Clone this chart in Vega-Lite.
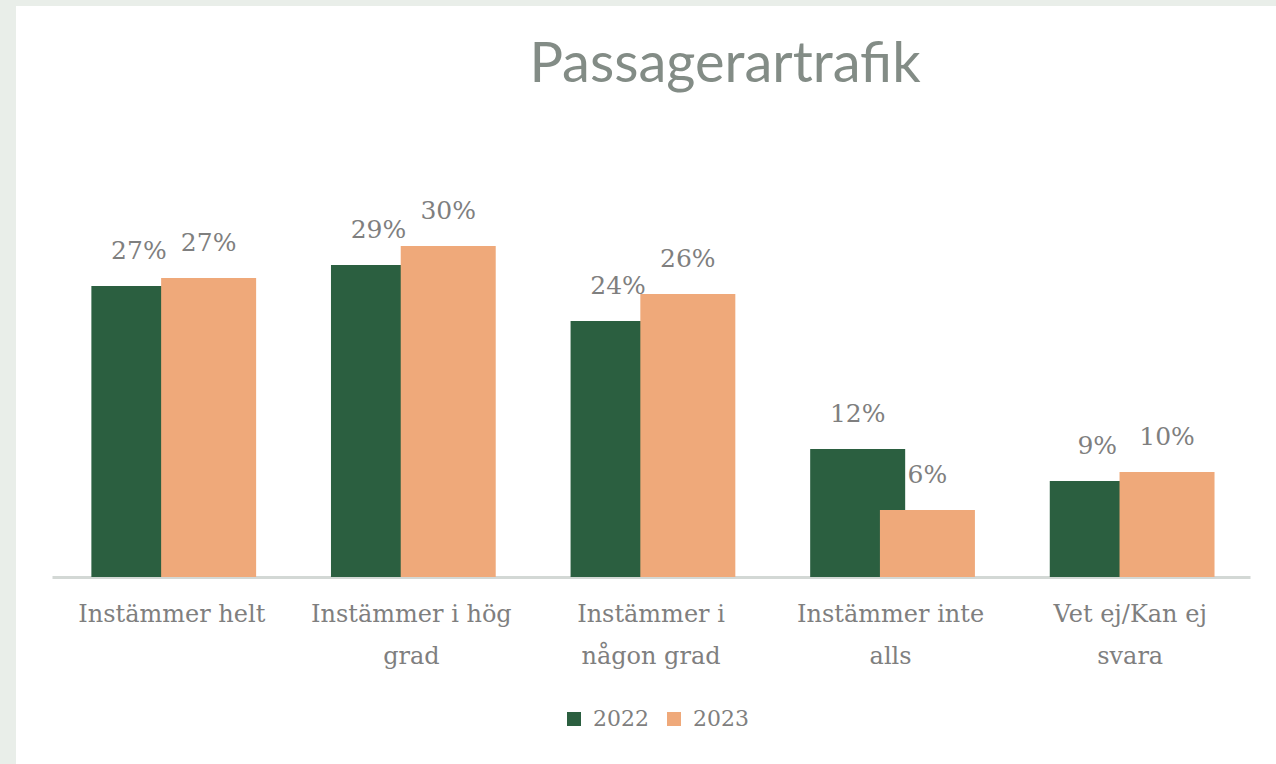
{
  "$schema": "https://vega.github.io/schema/vega-lite/v6.json",
  "autosize": "none",
  "padding": {"left": 16, "top": 6, "right": 0, "bottom": 0},
  "width": 1260,
  "height": 758,
  "background": "#e9eee9",
  "title": {
    "text": "Passagerartrafik",
    "font": "Lato",
    "fontSize": 56,
    "fontWeight": "normal",
    "color": "#838c86",
    "anchor": "middle",
    "dx": 79,
    "dy": 55,
    "baseline": "alphabetic",
    "offset": -77
  },
  "data": {
    "values": [
      {"kategori": "Instämmer helt", "år": "2022", "andel": 0.2675},
      {"kategori": "Instämmer i hög grad", "år": "2022", "andel": 0.2868},
      {"kategori": "Instämmer i någon grad", "år": "2022", "andel": 0.2353},
      {"kategori": "Instämmer inte alls", "år": "2022", "andel": 0.1176},
      {"kategori": "Vet ej/Kan ej svara", "år": "2022", "andel": 0.0882},
      {"kategori": "Instämmer helt", "år": "2023", "andel": 0.2748},
      {"kategori": "Instämmer i hög grad", "år": "2023", "andel": 0.3042},
      {"kategori": "Instämmer i någon grad", "år": "2023", "andel": 0.2601},
      {"kategori": "Instämmer inte alls", "år": "2023", "andel": 0.0616},
      {"kategori": "Vet ej/Kan ej svara", "år": "2023", "andel": 0.0965}
    ]
  },
  "encoding": {
    "x": {
      "field": "kategori",
      "type": "nominal",
      "sort": null,
      "scale": {"range": [36, 1234], "paddingInner": 0, "paddingOuter": 0},
      "axis": {
        "title": null,
        "orient": "bottom",
        "offset": -187,
        "ticks": false,
        "domainColor": "#d3d8d5",
        "domainWidth": 3,
        "labelAngle": 0,
        "labelPadding": 25,
        "labelLimit": 0,
        "labelFont": "DejaVu Serif",
        "labelFontSize": 24,
        "labelColor": "#7f7f7f",
        "labelLineHeight": 42,
        "labelExpr": "datum.label == 'Instämmer i hög grad' ? ['Instämmer i hög', 'grad'] : datum.label == 'Instämmer i någon grad' ? ['Instämmer i', 'någon grad'] : datum.label == 'Instämmer inte alls' ? ['Instämmer inte', 'alls'] : datum.label == 'Vet ej/Kan ej svara' ? ['Vet ej/Kan ej', 'svara'] : datum.label"
      }
    },
    "xOffset": {
      "field": "år",
      "type": "nominal",
      "scale": {"range": [52, 191.5], "paddingInner": 0, "paddingOuter": 0}
    },
    "y": {
      "field": "andel",
      "type": "quantitative",
      "scale": {"domain": [-0.1719, 0.5248], "nice": false, "zero": false},
      "axis": null
    }
  },
  "layer": [
    {
      "mark": {"type": "bar", "width": 95},
      "encoding": {
        "color": {
          "field": "år",
          "type": "nominal",
          "scale": {"domain": ["2022", "2023"], "range": ["#2b5f40", "#efa97a"]},
          "legend": {
            "title": null,
            "orient": "none",
            "legendX": 547,
            "legendY": 702,
            "direction": "horizontal",
            "symbolType": "square",
            "symbolSize": 196,
            "symbolStrokeWidth": 0,
            "labelFont": "DejaVu Serif",
            "labelFontSize": 22,
            "labelColor": "#7f7f7f",
            "columnPadding": 14,
            "labelOffset": 8
          }
        }
      }
    },
    {
      "mark": {"type": "text", "dy": -35, "baseline": "middle", "font": "DejaVu Serif", "fontSize": 25, "color": "#7f7f7f"},
      "encoding": {
        "text": {"field": "andel", "type": "quantitative", "format": ".0%"}
      }
    }
  ],
  "config": {
    "view": {"fill": "white", "stroke": null},
    "axis": {"grid": false}
  }
}
